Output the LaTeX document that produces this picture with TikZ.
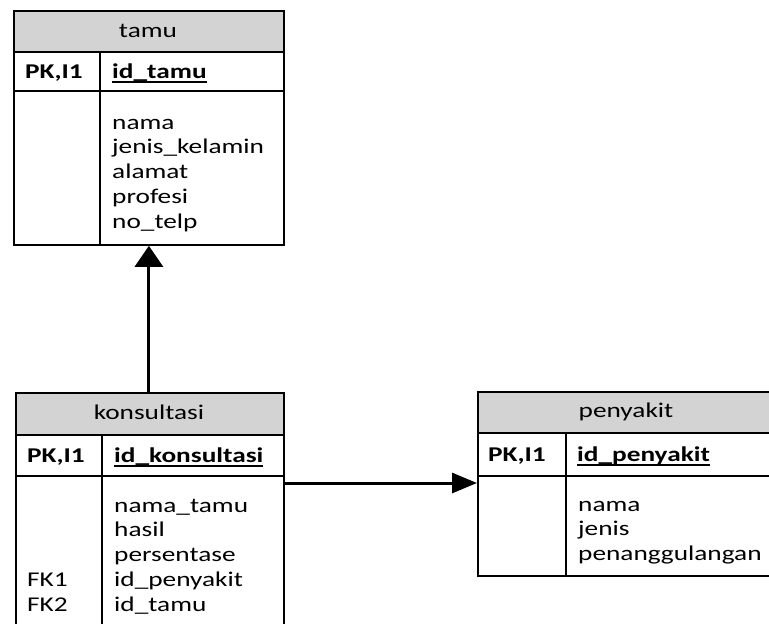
\documentclass[tikz,border=0pt]{standalone}
\usepackage{fontspec}
\setmainfont{Carlito}[FakeStretch=1.3]
\usetikzlibrary{arrows.meta,calc}
\definecolor{hdgray}{RGB}{211,211,211}
% underlined key column name
\newcommand\keyname[1]{\setbox0\hbox{#1}\rlap{\rule[-4.5pt]{\wd0}{1.6pt}}\box0}
\begin{document}
\begin{tikzpicture}[x=1pt,y=-1pt,
  frame/.style={draw=black, line width=1.8pt, inner sep=0pt, anchor=north west},
  head/.style={frame, fill=hdgray},
  rule/.style={draw=black, line width=1.8pt},
  txt/.style={inner sep=0pt, anchor=base west, font=\fontsize{21pt}{25pt}\selectfont},
  ttl/.style={txt, anchor=base},
  key/.style={txt, font=\fontsize{21pt}{25pt}\selectfont\bfseries},
  conn/.style={draw=black, line width=3pt}
]
\useasboundingbox (0,0) rectangle (769,624);
\clip (0,0) rectangle (769,624);

% ---- tamu ----
\node[head, minimum width=270pt, minimum height=41pt] (tamuH) at (13,10) {};
\node[frame, minimum width=270pt, minimum height=234pt] (tamu) at (13,10) {};
\draw[rule] (13,91) -- (283,91) (100,51) -- (100,244);
\node[ttl] (tamuT) at (148,37) {tamu};
\node[key] (tamuPK) at (25,78) {PK,I1};
\node[key] (tamuID) at (112,78) {\keyname{id\_tamu}};
\foreach \t [count=\i from 0] in {nama,jenis\_kelamin,alamat,profesi,no\_telp}
  \node[txt] (tamuA\i) at (112,129+24.8*\i) {\t};

% ---- konsultasi ----
\node[head, minimum width=268pt, minimum height=42pt] (konsH) at (15,392) {};
\node[frame, minimum width=268pt, minimum height=258pt] (konsultasi) at (15,392) {};
\draw[rule] (15,476) -- (283,476) (102,434) -- (102,650);
\node[ttl] (konsT) at (149,419) {konsultasi};
\node[key] (konsPK) at (27,462) {PK,I1};
\node[key] (konsID) at (114,462) {\keyname{id\_konsultasi}};
\foreach \t [count=\i from 0] in {nama\_tamu,hasil,persentase,id\_penyakit,id\_tamu}
  \node[txt] (konsA\i) at (114,512+24.8*\i) {\t};
\node[txt] (konsFK1) at (27,586.4) {FK1};
\node[txt] (konsFK2) at (27,611.2) {FK2};

% ---- penyakit ----
\node[head, minimum width=298pt, minimum height=41pt] (penyH) at (477,391) {};
\node[frame, minimum width=298pt, minimum height=184pt] (penyakit) at (477,391) {};
\draw[rule] (477,476) -- (775,476) (566,432) -- (566,575);
\node[ttl] (penyT) at (626,417) {penyakit};
\node[key] (penyPK) at (488,461) {PK,I1};
\node[key] (penyID) at (577,461) {\keyname{id\_penyakit}};
\foreach \t [count=\i from 0] in {nama,jenis,penanggulangan}
  \node[txt] (penyA\i) at (578,511+24.6*\i) {\t};

% ---- relationships ----
\draw[conn, -{Triangle[length=21pt,width=28pt]}]
  (tamu.south |- konsultasi.north) -- (tamu.south);
\coordinate (kout) at ($(konsultasi.north east)+(0,91)$);
\draw[conn, -{Triangle[length=25pt,width=20pt]}]
  (kout) -- (kout -| penyakit.west);
\end{tikzpicture}
\end{document}
